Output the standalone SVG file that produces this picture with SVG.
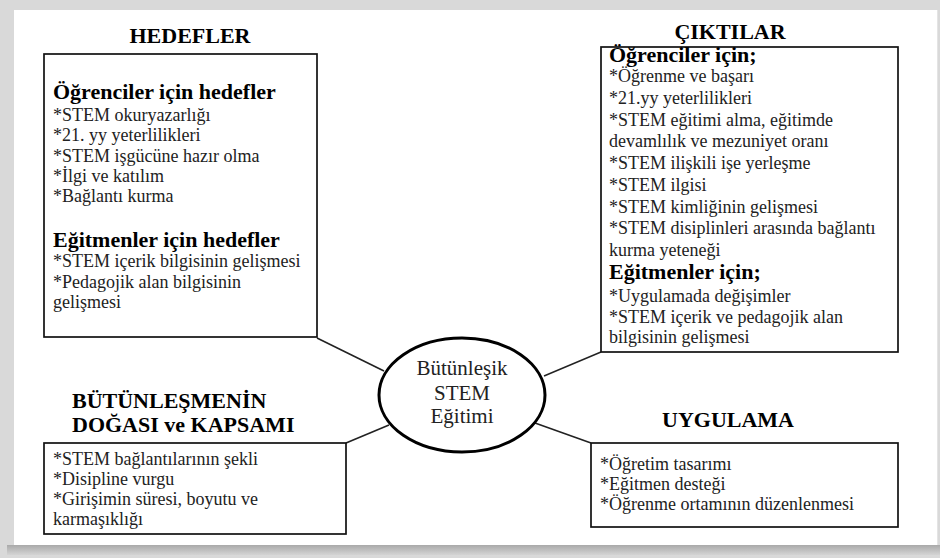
<svg xmlns="http://www.w3.org/2000/svg" width="940" height="558" viewBox="0 0 940 558">
<defs>
<linearGradient id="shadow" x1="0" y1="0" x2="0" y2="1">
<stop offset="0" stop-color="#a9a9a9"/>
<stop offset="1" stop-color="#d4d4d4"/>
</linearGradient>
<style>
.bg{fill:#d9d9d9}
.panel{fill:#fff}
.box{fill:#fff;stroke:#111;stroke-width:1.7}
.ell{fill:#fff;stroke:#000;stroke-width:3}
.con{stroke:#222;stroke-width:1.6;fill:none}
.title{font-family:"Liberation Serif","Times New Roman",serif;font-weight:bold;font-size:22px;fill:#000}
.sub{font-family:"Liberation Serif","Times New Roman",serif;font-weight:bold;font-size:22px;fill:#000}
.item{font-family:"Liberation Serif","Times New Roman",serif;font-size:18px;fill:#222}
.center{font-family:"Liberation Serif","Times New Roman",serif;font-size:21px;fill:#222}
</style>
</defs>
<rect class="bg" x="0" y="0" width="940" height="558"/>
<rect x="7" y="545" width="933" height="10" fill="url(#shadow)"/>
<rect class="panel" x="14" y="10" width="923" height="535"/>
<line x1="937.5" y1="10" x2="937.5" y2="545" stroke="#e4e4e4" stroke-width="1"/>

<g id="connectors">
<line class="con" x1="317" y1="338" x2="384" y2="371"/>
<line class="con" x1="346" y1="443" x2="389" y2="425"/>
<line class="con" x1="601" y1="352" x2="544" y2="376"/>
<line class="con" x1="591" y1="443" x2="535" y2="423"/>
</g>

<g id="hedefler">
<text class="title" x="190" y="43" text-anchor="middle">HEDEFLER</text>
<rect class="box" x="44" y="54" width="273" height="283"/>
<text class="sub" x="53" y="99">Öğrenciler için hedefler</text>
<text class="item" x="53" y="121">*STEM okuryazarlığı</text>
<text class="item" x="53" y="141">*21. yy yeterlilikleri</text>
<text class="item" x="53" y="161.5">*STEM işgücüne hazır olma</text>
<text class="item" x="53" y="182">*İlgi ve katılım</text>
<text class="item" x="53" y="202">*Bağlantı kurma</text>
<text class="sub" x="53" y="247">Eğitmenler için hedefler</text>
<text class="item" x="53" y="267">*STEM içerik bilgisinin gelişmesi</text>
<text class="item" x="53" y="287.5">*Pedagojik alan bilgisinin</text>
<text class="item" x="53" y="308">gelişmesi</text>
</g>

<g id="ciktilar">
<text class="title" x="730" y="39" text-anchor="middle">ÇIKTILAR</text>
<rect class="box" x="601" y="47" width="297" height="305"/>
<text class="sub" x="609" y="62">Öğrenciler için;</text>
<text class="item" x="609" y="82">*Öğrenme  ve başarı</text>
<text class="item" x="609" y="103.75">*21.yy yeterlilikleri</text>
<text class="item" x="609" y="125.5">*STEM eğitimi alma, eğitimde</text>
<text class="item" x="609" y="147.25">devamlılık ve mezuniyet oranı</text>
<text class="item" x="609" y="169">*STEM ilişkili işe yerleşme</text>
<text class="item" x="609" y="190.75">*STEM ilgisi</text>
<text class="item" x="609" y="212.5">*STEM kimliğinin gelişmesi</text>
<text class="item" x="609" y="234.25">*STEM disiplinleri arasında bağlantı</text>
<text class="item" x="609" y="256">kurma yeteneği</text>
<text class="sub" x="609" y="279">Eğitmenler için;</text>
<text class="item" x="609" y="302">*Uygulamada değişimler</text>
<text class="item" x="609" y="322.5">*STEM içerik ve pedagojik alan</text>
<text class="item" x="609" y="343">bilgisinin gelişmesi</text>
</g>

<g id="center">
<ellipse class="ell" cx="462" cy="395" rx="83" ry="57"/>
<text class="center" x="462" y="375" text-anchor="middle">Bütünleşik</text>
<text class="center" x="462" y="400" text-anchor="middle">STEM</text>
<text class="center" x="462" y="423" text-anchor="middle">Eğitimi</text>
</g>

<g id="dogasi">
<text class="title" x="72" y="408">BÜTÜNLEŞMENİN</text>
<text class="title" x="72" y="432">DOĞASI ve KAPSAMI</text>
<rect class="box" x="44" y="443" width="302" height="91"/>
<text class="item" x="53" y="465">*STEM bağlantılarının şekli</text>
<text class="item" x="53" y="485">*Disipline vurgu</text>
<text class="item" x="53" y="505">*Girişimin süresi, boyutu ve</text>
<text class="item" x="53" y="525">karmaşıklığı</text>
</g>

<g id="uygulama">
<text class="title" x="728" y="427" text-anchor="middle">UYGULAMA</text>
<rect class="box" x="591" y="443" width="307" height="84"/>
<text class="item" x="600" y="470">*Öğretim tasarımı</text>
<text class="item" x="600" y="490">*Eğitmen desteği</text>
<text class="item" x="600" y="510">*Öğrenme  ortamının düzenlenmesi</text>
</g>
</svg>
